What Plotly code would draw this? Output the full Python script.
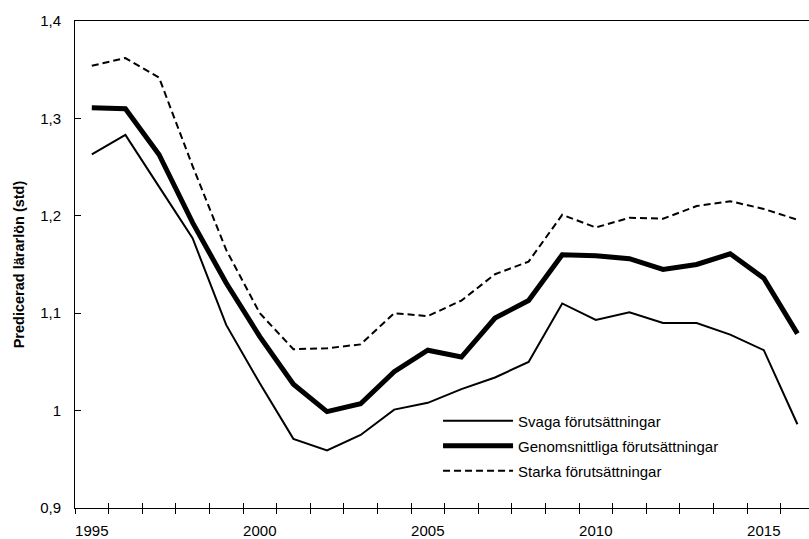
import plotly.graph_objects as go

# Years on the x axis
years = [str(y) for y in range(1995, 2017)]
year_labels = [y if int(y) % 5 == 0 else "" for y in years]

# Predicted teacher salary (std) by student background
svaga = [1.263, 1.283, 1.230, 1.177, 1.088, 1.028, 0.971, 0.959, 0.975, 1.001, 1.008,
         1.022, 1.034, 1.050, 1.110, 1.093, 1.101, 1.090, 1.090, 1.078, 1.062, 0.986]
genomsnitt = [1.311, 1.310, 1.263, 1.193, 1.131, 1.076, 1.027, 0.999, 1.007, 1.040, 1.062,
              1.055, 1.095, 1.113, 1.160, 1.159, 1.156, 1.145, 1.150, 1.161, 1.136, 1.079]
starka = [1.354, 1.362, 1.342, 1.251, 1.165, 1.100, 1.063, 1.064, 1.068, 1.100, 1.097,
          1.113, 1.140, 1.153, 1.201, 1.188, 1.198, 1.197, 1.210, 1.215, 1.207, 1.196]

series_names = ["Svaga förutsättningar", "Genomsnittliga förutsättningar", "Starka förutsättningar"]

y_ticks = [0.9, 1.0, 1.1, 1.2, 1.3, 1.4]

FONT = "Liberation Sans, Arial, sans-serif"

fig = go.Figure()
fig.add_trace(go.Scatter(x=years, y=svaga, name=series_names[0], mode="lines",
                         line=dict(color="black", width=2), legend="legend"))
fig.add_trace(go.Scatter(x=years, y=genomsnitt, name=series_names[1], mode="lines",
                         line=dict(color="black", width=5), legend="legend2"))
fig.add_trace(go.Scatter(x=years, y=starka, name=series_names[2], mode="lines",
                         line=dict(color="black", width=2, dash="7px,4px"), legend="legend3"))
# Empty trace carrying the inner half of the crossing x ticks
fig.add_trace(go.Scatter(x=years, y=[None] * len(years), xaxis="x2", showlegend=False,
                         hoverinfo="skip", mode="lines"))

legend_style = dict(xanchor="left", yanchor="middle", bgcolor="rgba(0,0,0,0)",
                    font=dict(size=15), itemwidth=70, x=0.4946)

fig.update_layout(
    width=809, height=539,
    margin=dict(l=75, r=0, t=21, b=31),
    paper_bgcolor="white", plot_bgcolor="white",
    separators=", ",
    font=dict(family=FONT, size=15, color="black"),
    showlegend=True,
    legend=dict(y=0.1786, **legend_style),
    legend2=dict(y=0.1273, **legend_style),
    legend3=dict(y=0.0760, **legend_style),
    xaxis=dict(type="category", categoryorder="array", categoryarray=years,
               tickmode="array", tickvals=years, ticktext=year_labels, tickangle=0,
               tickson="boundaries", ticks="outside", ticklen=5, tickcolor="black",
               range=[-0.5, 21.345], showline=True, linecolor="black", linewidth=1,
               mirror=True, showgrid=False, zeroline=False, ticklabelstandoff=9),
    xaxis2=dict(type="category", categoryorder="array", categoryarray=years,
                overlaying="x", anchor="y", side="bottom", matches="x",
                tickmode="array", tickvals=years, ticktext=[""] * len(years),
                tickson="boundaries", ticks="inside", ticklen=5, tickcolor="black",
                showline=False, showgrid=False, zeroline=False, showticklabels=False),
    yaxis=dict(range=[0.9, 1.4], tickmode="array", tickvals=y_ticks,
               ticks="inside", ticklen=6, tickcolor="black",
               showline=True, linecolor="black", linewidth=1,
               showgrid=False, zeroline=False, ticklabelstandoff=10,
               title=dict(text="<b>Predicerad lärarlön (std)</b>", standoff=12,
                          font=dict(size=14.5))),
)

fig.write_html("out.html")
